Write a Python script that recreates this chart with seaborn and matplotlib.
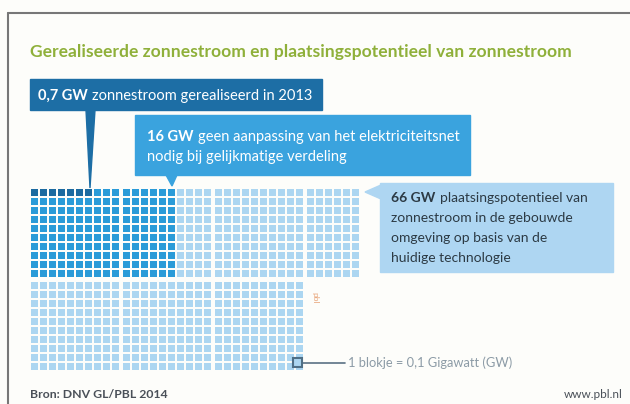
import numpy as np
import pandas as pd
import seaborn as sns
import matplotlib.pyplot as plt
from matplotlib.patches import Rectangle, Polygon

sns.set_theme(style="white")
plt.rcParams['font.family'] = ['Lato', 'DejaVu Sans']

# values (GW)
realised_gw = 0.7
no_grid_change_gw = 16
potential_gw = 66
block_gw = 0.1

# layout of the waffle: two bands of 10 rows, columns grouped per 10
band_columns = [36, 30]
rows_per_band = 10
cols_per_group = 10

title = "Gerealiseerde zonnestroom en plaatsingspotentieel van zonnestroom"
source = "Bron: DNV GL/PBL 2014"
site = "www.pbl.nl"
legend_text = "1 blokje = 0,1 Gigawatt (GW)"

col_dark = "#1b6aa0"
col_mid = "#2a9bd8"
col_light = "#acd6f1"

n_dark = int(round(realised_gw / block_gw))
n_mid = int(round(no_grid_change_gw / block_gw))
n_total = int(round(potential_gw / block_gw))

# build block table, column-major per band
cell = 9
x0, y0 = 30, 188
group_gap = 2
band_gap = 3
recs = []
idx = 0
for b, ncols in enumerate(band_columns):
    for c in range(ncols):
        for r in range(rows_per_band):
            if idx >= n_total:
                break
            g, cc = divmod(c, cols_per_group)
            x = x0 + g * (cols_per_group * cell + group_gap) + cc * cell + cell / 2
            y = y0 + b * (rows_per_band * cell + band_gap) + r * cell + cell / 2
            kind = "mid" if idx < n_mid else "light"
            if b == 0 and r == 0 and c < n_dark:
                kind = "dark"
            recs.append([x, y, kind])
            idx += 1
df = pd.DataFrame(recs, columns=["x", "y", "kind"])

fig = plt.figure(figsize=(6.3, 4.04), dpi=100, facecolor="#fdfdfa")
ax = fig.add_axes([0, 0, 1, 1])
ax.set_facecolor("#fdfdfa")
ax.set_xlim(0, 630)
ax.set_ylim(404, 0)
ax.axis("off")

sns.scatterplot(data=df, x="x", y="y", hue="kind", marker="s", s=32,
                linewidth=0, legend=False, ax=ax,
                palette={"dark": col_dark, "mid": col_mid, "light": col_light})

# frame lines
ax.plot([8, 8], [404, 13], color="#777777", lw=1.5)
ax.plot([8, 630], [13, 13], color="#777777", lw=1.5)

ax.text(30, 52, title, color="#8fb03a", fontsize=12.6, fontweight="bold", va="center")

def two_part(x, y, bold, rest, color, size):
    t = ax.text(x, y, bold, color=color, fontsize=size, fontweight="bold", va="center")
    ax.annotate(rest, xy=(1, 0), xycoords=t, xytext=(3, 0), textcoords="offset points",
                color=color, fontsize=size, va="bottom")

fs = 10.5
# callout 1
ax.add_patch(Rectangle((30, 79), 292, 31, color="#1d6ea5", zorder=3))
ax.add_patch(Polygon([(86, 110), (95, 110), (90, 188)], color="#1d6ea5", zorder=3))
two_part(38, 96, "0,7 GW", "zonnestroom gerealiseerd in 2013", "white", fs)

# callout 2
ax.add_patch(Rectangle((135, 115), 335, 60, color="#3aa3de", zorder=3))
ax.add_patch(Polygon([(166, 175), (177, 175), (172, 186)], color="#3aa3de", zorder=3))
two_part(147, 137, "16 GW", "geen aanpassing van het elektriciteitsnet", "white", fs)
ax.text(147, 157, "nodig bij gelijkmatige verdeling", color="white", fontsize=fs, va="center")

# callout 3
ax.add_patch(Rectangle((380, 183), 233, 89, color="#aed6f2", zorder=3))
ax.add_patch(Polygon([(381, 185), (381, 199), (365, 192)], color="#aed6f2", zorder=3))
dark_txt = "#2c3a44"
two_part(391, 198, "66 GW", "plaatsingspotentieel van", dark_txt, 10)
for i, line in enumerate(["zonnestroom in de gebouwde", "omgeving op basis van de",
                          "huidige technologie"]):
    ax.text(391, 218 + i * 20, line, color=dark_txt, fontsize=10, va="center")

# legend block
ax.add_patch(Rectangle((293, 358), 9, 9, facecolor=col_light, edgecolor="#4f6f86",
                       lw=1.5, zorder=4))
ax.plot([303, 345], [363, 363], color="#5a7184", lw=1.2)
ax.text(348, 363, legend_text, color="#8c9ba6", fontsize=9.3, va="center")
ax.text(315, 298, "pbl", color="#e8a57a", fontsize=6, rotation=270, va="center", ha="center")

ax.text(30, 394, source, color="#4a5058", fontsize=8.8, fontweight="bold", va="center")
ax.text(623, 394, site, color="#4a5058", fontsize=8.5, va="center", ha="right")

fig.savefig("out.png", dpi=100, facecolor=fig.get_facecolor())
